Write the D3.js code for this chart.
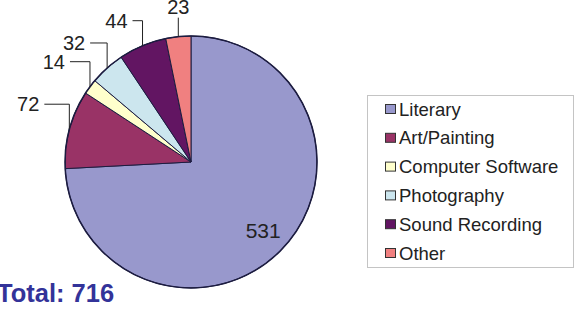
<!DOCTYPE html>
<meta charset="utf-8">
<style>
html, body { margin: 0; padding: 0; background: #fff; }
svg { display: block; font-family: Arial, "Liberation Sans", sans-serif; }
</style>
<body>
<svg width="574" height="311"></svg>
</body>
<script src="https://d3js.org/d3.v7.min.js"></script>
<script>

// data
var categories = ["Literary", "Art/Painting", "Computer Software", "Photography", "Sound Recording", "Other"];
var values = [531, 72, 14, 32, 44, 23];
var colours = ["#9898cc", "#993366", "#ffffcc", "#cce6ee", "#621562", "#f08080"];
var total_label = "Total: 716";

var svg = d3.select("svg");

var cx = 191, cy = 162, radius = 126;

// leader line layout per slice (horizontal run length, -1 = label inside)
var leader_run = [-1, 25, 20, 17, 10, 0];

var pie = d3.pie().sort(null).value(function(d) { return d; });
var arcs = pie(values);

var arc = d3.arc().innerRadius(0).outerRadius(radius);

var g = svg.append("g").attr("transform", "translate(" + cx + "," + cy + ")");

g.selectAll("path.slice")
    .data(arcs)
    .enter().append("path")
    .attr("class", "slice")
    .attr("d", arc)
    .attr("fill", function(d, i) { return colours[i]; })
    .attr("stroke", "#1c1c40")
    .attr("stroke-width", 1);

g.append("circle")
    .attr("r", radius)
    .attr("fill", "none")
    .attr("stroke", "#1c1c40")
    .attr("stroke-width", 1.5);

// labels
arcs.forEach(function(d, i) {
    var mid = (d.startAngle + d.endAngle) / 2;
    if (leader_run[i] < 0) {
        var r = radius * 0.79;
        g.append("text")
            .attr("x", r * Math.sin(mid))
            .attr("y", -r * Math.cos(mid))
            .attr("dy", "0.36em")
            .attr("text-anchor", "middle")
            .style("font-size", "21px")
            .style("fill", "#222")
            .text(values[i]);
        return;
    }
    var ex = radius * Math.sin(mid),
        ey = -radius * Math.cos(mid);
    if (leader_run[i] == 0) {
        g.append("line")
            .attr("x1", ex).attr("y1", ey)
            .attr("x2", ex).attr("y2", ey - 19)
            .attr("stroke", "#222").attr("stroke-width", 1);
        g.append("text")
            .attr("x", ex)
            .attr("y", ey - 23)
            .attr("text-anchor", "middle")
            .style("font-size", "20px")
            .style("fill", "#222")
            .text(values[i]);
        return;
    }
    var ky = ey - 25;
    g.append("polyline")
        .attr("points", [[ex, ey], [ex, ky], [ex - leader_run[i], ky]].join(" "))
        .attr("fill", "none")
        .attr("stroke", "#222").attr("stroke-width", 1);
    g.append("text")
        .attr("x", ex - leader_run[i] - 5)
        .attr("y", ky)
        .attr("dy", "0.36em")
        .attr("text-anchor", "end")
        .style("font-size", "20px")
        .style("fill", "#222")
        .text(values[i]);
});

// legend
var legend = svg.append("g").attr("transform", "translate(367,95)");
legend.append("rect")
    .attr("x", 0.5).attr("y", 0.5)
    .attr("width", 206).attr("height", 172)
    .attr("fill", "#fff")
    .attr("stroke", "#c4c4c4");

var item_y = d3.scalePoint().domain(categories).range([14, 158]);

var item = legend.selectAll("g.item")
    .data(categories)
    .enter().append("g")
    .attr("class", "item")
    .attr("transform", function(d) { return "translate(0," + item_y(d) + ")"; });

item.append("rect")
    .attr("x", 18.5).attr("y", -4.5)
    .attr("width", 10).attr("height", 9)
    .attr("fill", function(d, i) { return colours[i]; })
    .attr("stroke", "#333").attr("stroke-width", 1);

item.append("text")
    .attr("x", 32)
    .attr("dy", "0.36em")
    .style("font-size", "18.5px")
    .style("fill", "#222")
    .text(function(d) { return d; });

// total
svg.append("text")
    .attr("x", -3)
    .attr("y", 302)
    .style("font-size", "25.5px")
    .style("font-weight", "bold")
    .style("fill", "#333399")
    .text(total_label);

</script>
